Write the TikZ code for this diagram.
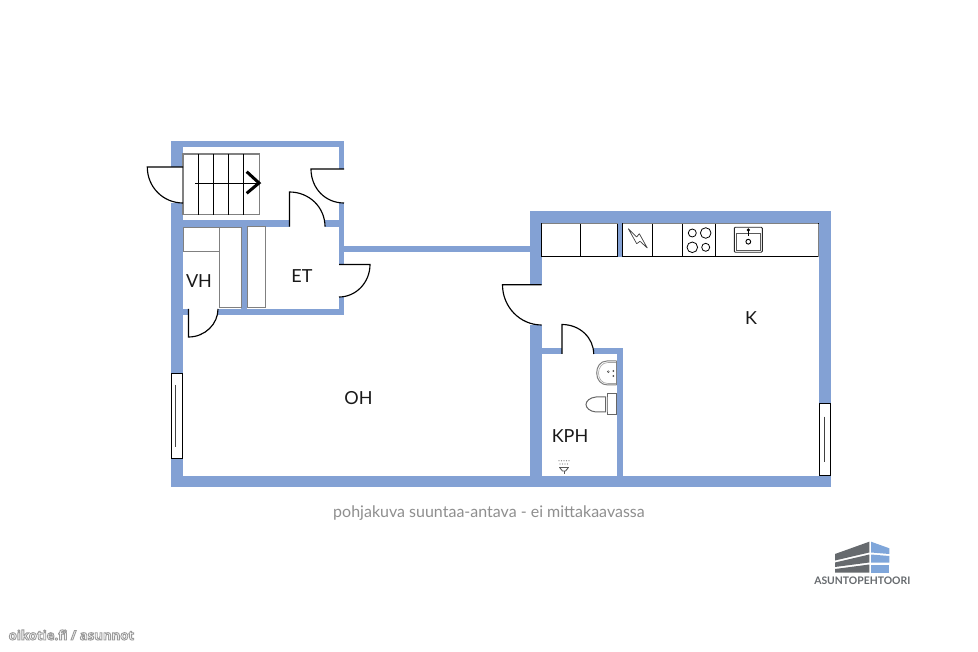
\documentclass[tikz,border=0pt]{standalone}
\usepackage{fontspec}
\setmainfont{Lato}
\newfontfamily\markfont{Open Sans}
\definecolor{wallblue}{HTML}{83A1D4}
\definecolor{capgrey}{HTML}{8F8F8F}
\definecolor{logogrey}{HTML}{666A6E}
\definecolor{logoblue}{HTML}{7FA6DA}
\definecolor{fixgrey}{HTML}{808080}
\tikzset{
  doorline/.style={draw=black,line width=1.15pt},
  frame/.style={draw=fixgrey,line width=1.1pt,fill=white},
  unit/.style={draw=black,line width=1pt},
  thinfix/.style={draw=fixgrey,line width=1pt,fill=white},
  glass/.style={draw=black,line width=1pt,fill=white},
  glassline/.style={draw=black!75,line width=1pt},
  roomlabel/.style={inner sep=0pt,font=\fontsize{18}{18}\selectfont,text=black!90}
}
\begin{document}
\begin{tikzpicture}[x=1pt,y=-1pt]
\useasboundingbox (0,0) rectangle (978,652);
\fill[white] (0,0) rectangle (978,652);
% walls: left block
\fill[wallblue] (171,141) rectangle (344,147);
\fill[wallblue] (171,141) rectangle (183,167);
\fill[wallblue] (171,203) rectangle (183,373.5);
\fill[wallblue] (171,458) rectangle (183,487);
\fill[wallblue] (338.7,141) rectangle (344,169);
\fill[wallblue] (338.7,203) rectangle (344,264.5);
\fill[wallblue] (338.7,297) rectangle (344,315);
\fill[wallblue] (183,220) rectangle (289.5,226.7);
\fill[wallblue] (325,220) rectangle (339,226.7);
\fill[wallblue] (183,309) rectangle (188.5,315);
\fill[wallblue] (218,309) rectangle (344,315);
\fill[wallblue] (241.3,226) rectangle (247.3,309);
\fill[wallblue] (344,246) rectangle (530,252);
% walls: right block
\fill[wallblue] (529.5,211) rectangle (831,223.5);
\fill[wallblue] (529.5,211) rectangle (541.7,284.7);
\fill[wallblue] (529.5,325) rectangle (541.7,487);
\fill[wallblue] (819,211) rectangle (831,403.5);
\fill[wallblue] (819,475) rectangle (831,487);
\fill[wallblue] (541.7,348.3) rectangle (562,354);
\fill[wallblue] (593.7,348.3) rectangle (623.3,354);
\fill[wallblue] (617.3,348.3) rectangle (623.3,476);
\fill[wallblue] (171,476) rectangle (831,487);
\fill[wallblue] (617.7,223.5) rectangle (622.7,256.7);
% windows
\draw[glass] (171.3,373.5) rectangle (182.7,458.3);
\draw[glassline] (175.7,385) -- (175.7,446.7);
\draw[glass] (819.5,403.5) rectangle (830.5,475);
\draw[glassline] (824.7,416.7) -- (824.7,461.7);
% stairs
\draw[frame] (183,154) rectangle (259.3,214.7);
\draw[unit] (198.3,154) -- (198.3,214.7);
\draw[unit] (213.5,154) -- (213.5,214.7);
\draw[unit] (228.7,154) -- (228.7,214.7);
\draw[unit] (243.7,154) -- (243.7,214.7);
\draw[unit,line width=0.8pt] (195,183.3) -- (259,183.3);
\draw[black,line width=3pt] (246.7,171.7) -- (259,183) -- (246.7,193.3);
% closets
\draw[thinfix] (183,227.3) rectangle (219.3,251.7);
\draw[thinfix] (219.3,227.3) rectangle (241.3,308);
\draw[thinfix] (247.3,226.7) rectangle (265.3,307.7);
% kitchen units
\draw[unit,fill=white] (541.7,223.7) rectangle (617.7,256.7);
\draw[unit,fill=white] (622.7,223.7) rectangle (818.3,256.7);
\draw[fixgrey,line width=1pt] (541.7,223.7) -- (617.7,223.7) (622.7,223.7) -- (818.3,223.7) (818.3,223.7) -- (818.3,256.7);
\draw[unit] (580.3,223.7) -- (580.3,256.7);
\draw[unit] (652.7,223.7) -- (652.7,256.7);
\draw[unit] (682.7,223.7) -- (682.7,256.7);
\draw[unit] (715.7,223.7) -- (715.7,256.7);
% lightning
\draw[black!75,line width=0.7pt,line join=bevel] (628.3,228.7) -- (636.7,237) -- (639.3,233.7) -- (647.3,248) -- (640,241.3) -- (636.7,243.7) -- cycle;
% hob
\draw[black,line width=0.8pt] (692.3,233) circle[radius=4];
\draw[black,line width=0.8pt] (705.7,233) circle[radius=5.3];
\draw[black,line width=0.8pt] (692.3,247.3) circle[radius=5.3];
\draw[black,line width=0.8pt] (705.7,247.3) circle[radius=4];
% sink
\draw[black!85,line width=0.9pt,rounded corners=1pt] (734.3,227.3) rectangle (762.3,252.3);
\draw[black!65,line width=0.8pt] (736.3,233.3) rectangle (760.3,250);
\draw[black,line width=0.9pt] (748.3,241.7) circle[radius=2.4];
\draw[black,line width=1.4pt] (748.3,230) -- (748.3,236.5);
\fill[black] (748.3,230) circle[radius=1.8];
% basin
\draw[fixgrey,line width=1pt] (616.7,361) -- (607,361) .. controls (600,361) and (596.7,367) .. (596.7,373) .. controls (596.7,380) and (601,385) .. (608,385) -- (616.7,385);
\draw[fixgrey!70,line width=0.6pt] (616.7,362.5) -- (608,362.5) .. controls (602,362.5) and (598.5,368) .. (598.5,373) .. controls (598.5,379) and (602,383.5) .. (608,383.5) -- (616.7,383.5);
\draw[fixgrey,line width=1.2pt] (616.5,361) -- (616.5,385);
\draw[black!70,line width=0.5pt] (608.3,371.7) circle[radius=1];
\draw[black!70,line width=0.5pt] (613.3,371) circle[radius=0.7] (613.3,376) circle[radius=0.7];
% toilet
\draw[thinfix,draw=black!60] (607.3,393.3) rectangle (616,414.3);
\draw[thinfix,draw=black!60] (605.7,397) -- (596,397) .. controls (590,397.5) and (586,401) .. (586,404.5) .. controls (586,408) and (590,411.5) .. (596,412) -- (605.7,412) -- cycle;
\draw[black!45,line width=0.5pt] (607.3,397) -- (607.3,412);
% shower
\foreach \dx in {559,561.5,564,566.5,569} {\fill[fixgrey] (\dx,460.7) circle[radius=0.6];}
\foreach \dx in {560,562.5,565,567.5} {\fill[fixgrey] (\dx,464) circle[radius=0.6];}
\draw[black!65,line width=1.6pt] (559,467.3) -- (569,467.3);
\draw[black!65,line width=0.9pt] (560,468) -- (562.5,471) -- (565.5,471) -- (568,468);
\draw[black!65,line width=1pt] (564,471) -- (564,473.5);
% doors
\draw[doorline] (183,167) -- (147.3,167) .. controls (147.3,187) and (163,203) .. (183,203);
\draw[doorline] (344,169) -- (311,169) .. controls (311,188) and (325,203) .. (344,203);
\draw[doorline] (289.5,226.7) -- (289.5,192) .. controls (309,192) and (325,207) .. (325,226.7);
\draw[doorline] (339,264.5) -- (370,264.5) .. controls (370,282.5) and (356,297) .. (339,297);
\draw[doorline] (188.5,309) -- (188.5,337) .. controls (205,337) and (218,324) .. (218,309);
\draw[doorline] (541.7,284.7) -- (502.5,284.7) .. controls (502.5,307) and (520,325) .. (541.7,325);
\draw[doorline] (562,354) -- (562,324.5) .. controls (580,324.5) and (593.7,338) .. (593.7,354);
% labels
\node[roomlabel] (vh) at (199,281.5) {VH};
\node[roomlabel] (et) at (302,276.5) {ET};
\node[roomlabel] (k) at (751,318.5) {K};
\node[roomlabel] (oh) at (358.5,398.5) {OH};
\node[roomlabel] (kph) at (570,436) {KPH};
\node[inner sep=0pt,text=capgrey,font=\fontsize{16}{16}\selectfont] (cap) at (489,513) {pohjakuva suuntaa-antava - ei mittakaavassa};
% logo
\fill[logogrey] (835,554) -- (869.3,541.7) -- (869.3,552.5) -- (835,560.5) -- cycle;
\fill[logogrey] (835,562.5) -- (869.3,554.5) -- (869.3,562.5) -- (835,567) -- cycle;
\fill[logogrey] (835,569) -- (869.3,564.5) -- (869.3,572.7) -- (835,572.7) -- cycle;
\fill[logoblue] (871,541.7) -- (889.3,548.3) -- (889.3,554) -- (871,552.5) -- cycle;
\fill[logoblue] (871,554.5) -- (889.3,556) -- (889.3,562.5) -- (871,562.5) -- cycle;
\fill[logoblue] (871,564.5) -- (889.3,564.5) -- (889.3,572.7) -- (871,572.7) -- cycle;
\node[inner sep=0pt,text=logogrey,font=\fontsize{10.4}{10.4}\selectfont\bfseries] (logotext) at (862.3,581) {ASUNTOPEHTOORI};
% watermark
\node[inner sep=0pt,anchor=west,text=white,font=\fontsize{13.2}{15}\selectfont\markfont\bfseries] (mark) at (8.5,635) {\special{pdf:code q 2 Tr 0.9 w 0.6 0.6 0.6 RG}oikotie.fi / asunnot\special{pdf:code Q}};
\end{tikzpicture}
\end{document}
